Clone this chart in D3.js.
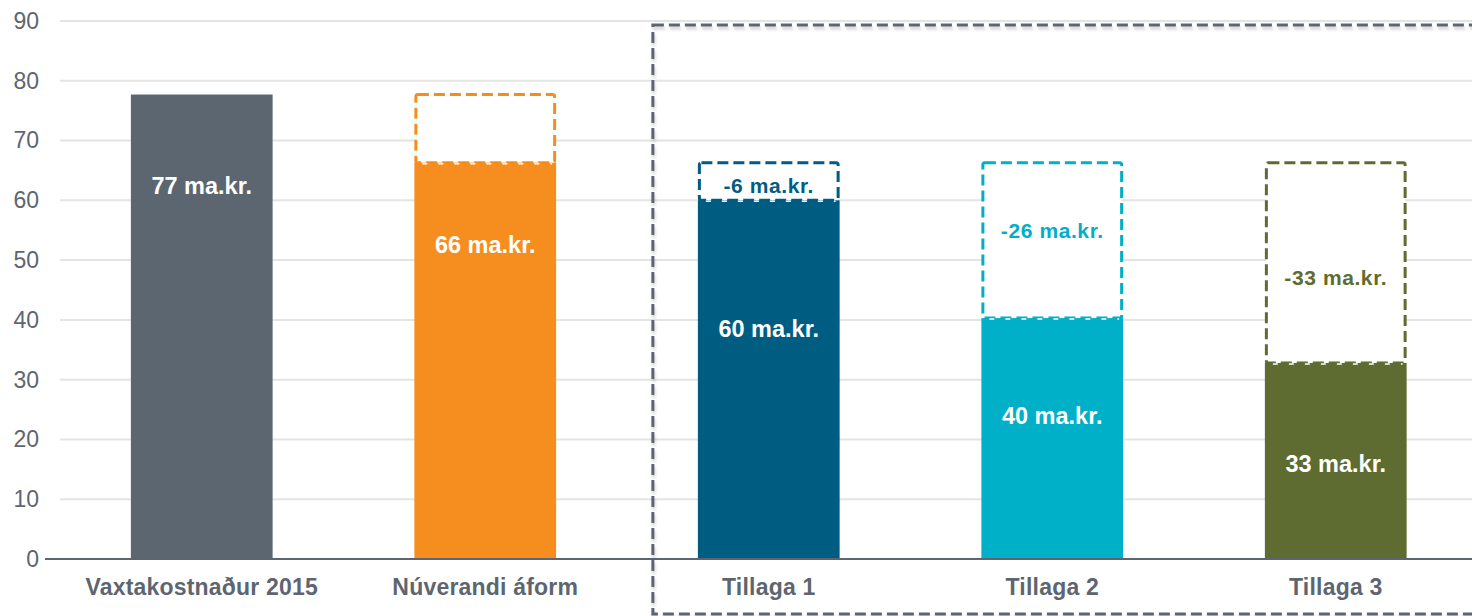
<!DOCTYPE html>
<html>
<head>
<meta charset="utf-8">
<script src="https://cdn.jsdelivr.net/npm/d3@7"></script>
<style>
  body { margin: 0; background: #fff; }
  text { font-family: "Liberation Sans", Arial, sans-serif; }
</style>
</head>
<body>
<div class="chart"></div>
<script>
// Chart data
var categories = ["Vaxtakostnaður 2015", "Núverandi áform", "Tillaga 1", "Tillaga 2", "Tillaga 3"];
var values = [77.7, 66.3, 60.0, 40.3, 32.8];
var previousValues = [null, 77.7, 66.3, 66.3, 66.3];
var barLabels = ["77 ma.kr.", "66 ma.kr.", "60 ma.kr.", "40 ma.kr.", "33 ma.kr."];
var diffLabels = [null, null, "-6 ma.kr.", "-26 ma.kr.", "-33 ma.kr."];
var yTicks = [0, 10, 20, 30, 40, 50, 60, 70, 80, 90];

// Layout / styling
var colors = ["#5b6670", "#f58e1f", "#005d82", "#00afc8", "#5f6c31"];
var barLabelAt = [62.4, 52.5, 38.5, 23.9, 16.0];   // y value (data units) where bar label sits
var diffLabelAt = [null, null, 62.4, 55.0, 47.0];

var svgWidth = 1472;
var svgHeight = 616;
var margin = { top: 21, right: -5.5, bottom: 57, left: 60 };
var width = svgWidth - margin.left - margin.right;
var height = svgHeight - margin.top - margin.bottom;

var svg = d3.select(".chart")
  .append("svg")
  .attr("width", svgWidth)
  .attr("height", svgHeight);

var defs = svg.append("defs");
var shadow = defs.append("filter").attr("id", "shadow")
  .attr("x", "-5%").attr("y", "-5%").attr("width", "110%").attr("height", "110%");
shadow.append("feDropShadow")
  .attr("dx", 1).attr("dy", 3).attr("stdDeviation", 1.5)
  .attr("flood-color", "#000").attr("flood-opacity", 0.18);

var chartGroup = svg.append("g")
  .attr("transform", `translate(${margin.left}, ${margin.top})`);

var x = d3.scaleBand()
  .domain(categories)
  .range([0, width])
  .paddingInner(0.5)
  .paddingOuter(0.25);

var y = d3.scaleLinear()
  .domain([0, 90])
  .range([height, 0]);

// Gridlines
chartGroup.append("g")
  .selectAll("line")
  .data(yTicks.filter(d => d > 0))
  .enter()
  .append("line")
  .attr("x1", 0)
  .attr("x2", svgWidth)
  .attr("y1", d => y(d))
  .attr("y2", d => y(d))
  .attr("stroke", "#e4e4e4")
  .attr("stroke-width", 2);

// Y axis labels
var leftAxis = d3.axisLeft(y).tickValues(yTicks).tickSize(0).tickPadding(21);
var yAxis = chartGroup.append("g").call(leftAxis);
yAxis.select(".domain").remove();
yAxis.selectAll("text")
  .attr("font-size", "23px")
  .attr("fill", "#5d6670")
  .style("font-family", "'Liberation Sans', Arial, sans-serif");

// Dashed "previous value" boxes
var idx = d3.range(categories.length);
chartGroup.selectAll(".prevBox")
  .data(idx.filter(i => previousValues[i] !== null))
  .enter()
  .append("rect")
  .attr("class", "prevBox")
  .attr("x", i => x(categories[i]) + 1.5)
  .attr("y", i => y(previousValues[i]))
  .attr("width", x.bandwidth() - 3)
  .attr("height", i => y(values[i]) - y(previousValues[i]))
  .attr("rx", 2)
  .attr("fill", "#fff")
  .attr("stroke", i => colors[i])
  .attr("stroke-width", 3)
  .attr("stroke-dasharray", "11 5");

// Bars
chartGroup.selectAll(".bar")
  .data(idx)
  .enter()
  .append("rect")
  .attr("class", "bar")
  .attr("x", i => x(categories[i]))
  .attr("y", i => y(values[i]))
  .attr("width", x.bandwidth())
  .attr("height", i => y(0) - y(values[i]))
  .attr("fill", i => colors[i]);

// White dashes on bar tops where the box meets the bar
chartGroup.selectAll(".joint")
  .data(idx.filter(i => previousValues[i] !== null))
  .enter()
  .append("line")
  .attr("x1", i => x(categories[i]) + 8)
  .attr("x2", i => x(categories[i]) + x.bandwidth() - 4)
  .attr("y1", i => y(values[i]) + 1)
  .attr("y2", i => y(values[i]) + 1)
  .attr("stroke", "#fff")
  .attr("stroke-width", 1.5)
  .attr("stroke-dasharray", "5 11");

// Bar labels
chartGroup.selectAll(".barLabel")
  .data(idx)
  .enter()
  .append("text")
  .attr("class", "barLabel")
  .attr("x", i => x(categories[i]) + x.bandwidth() / 2)
  .attr("y", i => y(barLabelAt[i]))
  .attr("dy", "0.35em")
  .attr("text-anchor", "middle")
  .attr("font-size", "23.5px")
  .attr("font-weight", "bold")
  .attr("fill", "#fff")
  .text(i => barLabels[i]);

// Difference labels
chartGroup.selectAll(".diffLabel")
  .data(idx.filter(i => diffLabels[i] !== null))
  .enter()
  .append("text")
  .attr("class", "diffLabel")
  .attr("x", i => x(categories[i]) + x.bandwidth() / 2)
  .attr("y", i => y(diffLabelAt[i]))
  .attr("dy", "0.35em")
  .attr("text-anchor", "middle")
  .attr("font-size", "21px")
  .attr("font-weight", "bold")
  .attr("letter-spacing", "0.6px")
  .attr("fill", i => colors[i])
  .text(i => diffLabels[i]);

// X axis
chartGroup.append("line")
  .attr("x1", -15)
  .attr("x2", svgWidth)
  .attr("y1", y(0))
  .attr("y2", y(0))
  .attr("stroke", "#5d6670")
  .attr("stroke-width", 2);

chartGroup.selectAll(".catLabel")
  .data(categories)
  .enter()
  .append("text")
  .attr("class", "catLabel")
  .attr("x", d => x(d) + x.bandwidth() / 2)
  .attr("y", height + 28)
  .attr("dy", "0.35em")
  .attr("text-anchor", "middle")
  .attr("font-size", "23px")
  .attr("font-weight", "bold")
  .attr("letter-spacing", "0.2px")
  .attr("fill", "#5d6670")
  .text(d => d);

// Dashed frame around the proposals
var frameLeft = margin.left + x(categories[2]) - 45;
svg.append("rect")
  .attr("x", frameLeft)
  .attr("y", 25)
  .attr("width", 900)
  .attr("height", 589)
  .attr("fill", "none")
  .attr("stroke", "#5b6670")
  .attr("stroke-width", 3)
  .attr("stroke-dasharray", "11 5")
  .attr("filter", "url(#shadow)");
</script>
</body>
</html>
